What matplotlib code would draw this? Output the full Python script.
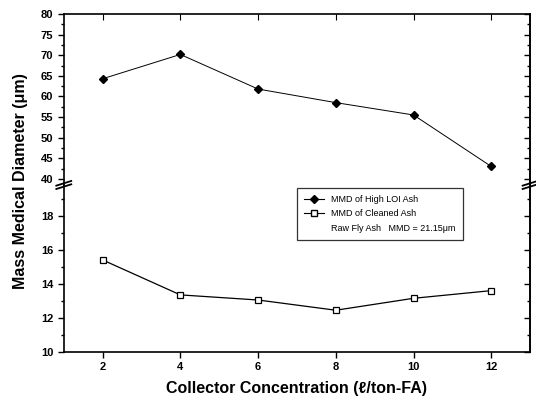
import matplotlib.pyplot as plt
from matplotlib.lines import Line2D
from matplotlib.ticker import MultipleLocator

plt.rcParams['font.family'] = ['Liberation Sans', 'DejaVu Sans']

conc = [2, 4, 6, 8, 10, 12]
mmd_high_loi = [64.3, 70.2, 61.8, 58.5, 55.5, 43.0]
mmd_cleaned = [15.4, 13.35, 13.05, 12.45, 13.15, 13.6]

top_ticks = [40, 45, 50, 55, 60, 65, 70, 75, 80]
bot_ticks = [10, 12, 14, 16, 18]

fig = plt.figure(figsize=(5.36, 4.03), dpi=100)
ax_top = fig.add_axes([0.119, 0.541, 0.870, 0.424])
ax_bot = fig.add_axes([0.119, 0.1266, 0.870, 0.4144])

ax_top.plot(conc, mmd_high_loi, color='black', lw=0.7, marker='D', ms=4,
            mfc='black')
ax_bot.plot(conc, mmd_cleaned, color='black', lw=0.9, marker='s', ms=4,
            mfc='white', mew=0.9)

ax_top.set_ylim(38.5, 80)
ax_bot.set_ylim(10, 19.8)

for ax, ticks, minor, hidden in ((ax_top, top_ticks, 2.5, 'bottom'),
                                 (ax_bot, bot_ticks, 1, 'top')):
    ax.set_xlim(1, 13)
    ax.set_xticks(conc)
    ax.set_yticks(ticks)
    ax.yaxis.set_minor_locator(MultipleLocator(minor))
    for s in ax.spines.values():
        s.set_linewidth(1.2)
    ax.spines[hidden].set_visible(False)
    ax.tick_params(axis='y', which='both', direction='out', labelsize=8,
                   width=1)
    ax.tick_params(which='major', length=4)
    ax.tick_params(which='minor', length=2.5)
    # inward ticks on the right spine
    right = ax.secondary_yaxis('right')
    right.set_yticks(ticks)
    right.yaxis.set_minor_locator(MultipleLocator(minor))
    right.tick_params(axis='y', which='both', direction='in',
                      labelright=False, width=1)
    right.tick_params(which='major', length=4)
    right.tick_params(which='minor', length=2.5)
    right.spines['right'].set_linewidth(1.2)
    right.spines[hidden].set_visible(False)

ax_top.tick_params(axis='x', bottom=False, labelbottom=False, top=True,
                   direction='in')
ax_bot.tick_params(axis='x', labelsize=8, direction='out', width=1)
for ax in (ax_top, ax_bot):
    for lab in ax.get_yticklabels() + ax.get_xticklabels():
        lab.set_fontweight('bold')

# break marks
for x in (0, 1):
    for dy in (-0.01, 0.01):
        ax_bot.plot([x - 0.016, x + 0.016], [1.0 + dy - 0.014, 1.0 + dy + 0.014],
                    transform=ax_bot.transAxes, color='black', lw=1.3,
                    clip_on=False, zorder=10)

handles = [
    Line2D([], [], color='black', lw=0.8, marker='D', ms=4, mfc='black'),
    Line2D([], [], color='black', lw=0.8, marker='s', ms=4, mfc='white'),
    Line2D([], [], color='none'),
]
labels = ['MMD of High LOI Ash', 'MMD of Cleaned Ash',
          'Raw Fly Ash   MMD = 21.15\u03bcm']
leg = ax_bot.legend(handles, labels, loc='upper left',
                    bbox_to_anchor=(0.49, 1.01), fontsize=6.5, frameon=True,
                    fancybox=False, edgecolor='black', handlelength=2.2,
                    borderpad=0.8, labelspacing=0.6)
leg.get_frame().set_linewidth(0.9)
leg.set_zorder(5)

fig.text(0.038, 0.55, 'Mass Medical Diameter (\u03bcm)', rotation=90,
         ha='center', va='center', fontsize=11.5, fontweight='bold')
ax_bot.set_xlabel('Collector Concentration (\u2113/ton-FA)', fontsize=11.5,
                  fontweight='bold', labelpad=6)

fig.savefig('out.png', dpi=100)
